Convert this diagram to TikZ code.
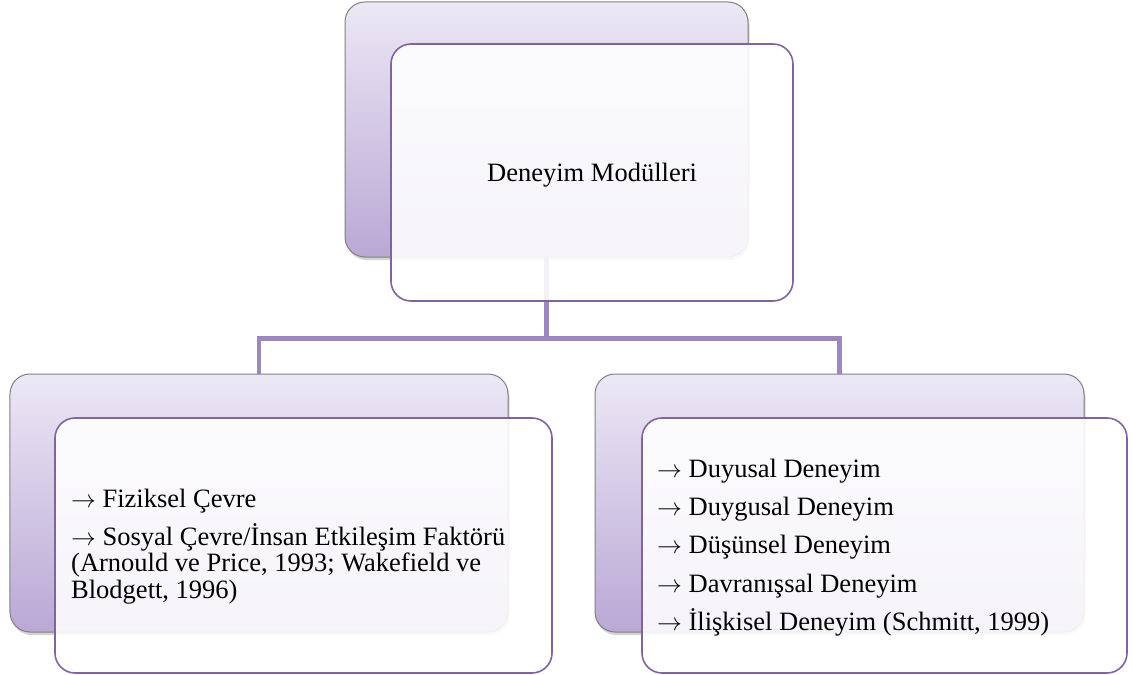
\documentclass[tikz,border=0pt]{standalone}
\usepackage{fontspec}
\setmainfont{Liberation Serif}
\usetikzlibrary{shadows}
\definecolor{backtop}{HTML}{ECE8F5}
\definecolor{backbot}{HTML}{BAA8D5}
\definecolor{backline}{HTML}{808080}
\definecolor{frontline}{HTML}{8064A2}
\definecolor{connline}{HTML}{9C88BD}
\newcommand{\myarr}{$\rightarrow$}
\begin{document}
\begin{tikzpicture}[x=1bp,y=-1bp,
  backbox/.style={rectangle, rounded corners=20bp, inner sep=0pt, draw=backline, line width=1bp,
    top color=backtop, bottom color=backbot,
    drop shadow={shadow xshift=1.5bp, shadow yshift=-3bp, opacity=0.35}},
  frontbox/.style={rectangle, rounded corners=20bp, inner sep=0pt, draw=frontline, line width=1.6bp,
    fill=white, fill opacity=0.88},
  conn/.style={draw=connline, line width=4.5bp},
  txt/.style={anchor=base west, inner sep=0pt, font=\fontsize{26.5bp}{32bp}\selectfont}]
\useasboundingbox (0,0) rectangle (1133,675);
% back boxes
\node[backbox, minimum width=403bp, minimum height=255bp] (tb) at (546.5,129.5) {};
\node[backbox, minimum width=498bp, minimum height=258bp] (lb) at (259,503) {};
\node[backbox, minimum width=489bp, minimum height=258bp] (rb) at (839.5,503) {};
% connectors
\path (tb.south) ++(0,81) coordinate (bar);
\draw[conn] (tb.south) -- (bar) -| (lb.north);
\draw[conn] (bar) -| (rb.north);
% front boxes
\node[frontbox, minimum width=402bp, minimum height=257bp] (tf) at (592,172.5) {};
\node[frontbox, minimum width=497bp, minimum height=255bp] (lf) at (303.5,545.5) {};
\node[frontbox, minimum width=485bp, minimum height=255bp] (rf) at (884.5,545.5) {};
% texts
\node[txt] (tt) at (487,182) {Deneyim Modülleri};
\node[txt] (l1) at (71,507) {\myarr{} Fiziksel Çevre};
\node[txt] (l2) at (71,545) {\myarr{} Sosyal Çevre/İnsan Etkileşim Faktörü};
\node[txt] (l3) at (71,571.5) {(Arnould ve Price, 1993; Wakefield ve};
\node[txt] (l4) at (71,598) {Blodgett, 1996)};
\node[txt] (r1) at (657,477) {\myarr{} Duyusal Deneyim};
\node[txt] (r2) at (657,515) {\myarr{} Duygusal Deneyim};
\node[txt] (r3) at (657,553) {\myarr{} Düşünsel Deneyim};
\node[txt] (r4) at (657,592) {\myarr{} Davranışsal Deneyim};
\node[txt] (r5) at (657,630) {\myarr{} İlişkisel Deneyim (Schmitt, 1999)};
\end{tikzpicture}
\end{document}
